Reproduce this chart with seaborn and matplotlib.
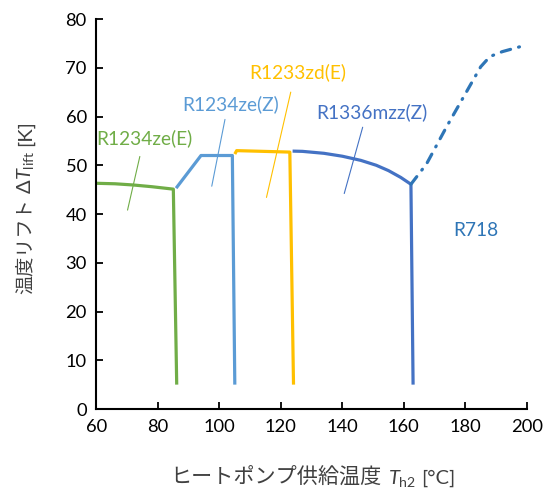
import numpy as np
import pandas as pd
import matplotlib
matplotlib.use("Agg")
import matplotlib.pyplot as plt
from matplotlib.transforms import IdentityTransform
import seaborn as sns

# Operating limits of each refrigerant: supply temperature vs. temperature lift
r1234ze_e_x = [60.0, 66.0, 72.0, 78.0, 85.0, 86.1]
r1234ze_e_y = [46.3, 46.2, 45.95, 45.6, 45.1, 5.0]

r1234ze_z_x = [85.9, 94.0, 104.2, 105.0]
r1234ze_z_y = [45.3, 52.0, 52.0, 5.0]

r1233zd_e_x = [105.0, 105.6, 122.9, 124.1]
r1233zd_e_y = [52.3, 53.0, 52.7, 5.0]

r1336mzz_z_x = [123.8, 127.0, 134.0, 140.0, 146.0, 151.0, 155.0, 159.0, 162.3, 163.0]
r1336mzz_z_y = [52.9, 52.85, 52.45, 51.85, 51.0, 50.0, 48.9, 47.5, 46.1, 5.0]

r718_x = [162.3, 167.4, 173.9, 180.4, 185.0, 188.0, 192.0, 200.0]
r718_y = [46.1, 50.3, 57.9, 65.1, 70.2, 72.3, 73.3, 74.7]

names = ["R1234ze(E)", "R1234ze(Z)", "R1233zd(E)", "R1336mzz(Z)", "R718"]
colors = ["#70AD47", "#5B9BD5", "#FFC000", "#4472C4", "#2E75B6"]

x_ticks = [60, 80, 100, 120, 140, 160, 180, 200]
y_ticks = [0, 10, 20, 30, 40, 50, 60, 70, 80]

series = [
    (names[0], r1234ze_e_x, r1234ze_e_y),
    (names[1], r1234ze_z_x, r1234ze_z_y),
    (names[2], r1233zd_e_x, r1233zd_e_y),
    (names[3], r1336mzz_z_x, r1336mzz_z_y),
    (names[4], r718_x, r718_y),
]
df = pd.concat(
    [pd.DataFrame({"refrigerant": n, "T_h2": xs, "dT_lift": ys}) for n, xs, ys in series],
    ignore_index=True,
)

# label positions (data coords) and leader line ends for the annotations
label_pos = {
    "R1234ze(E)": (75.5, 55.6),
    "R1234ze(Z)": (103.6, 62.6),
    "R1233zd(E)": (125.5, 69.0),
    "R1336mzz(Z)": (149.5, 60.9),
    "R718": (183.5, 36.7),
}
leaders = {
    "R1234ze(E)": ((74.1, 51.8), (70.1, 40.8)),
    "R1234ze(Z)": ((101.8, 59.4), (97.5, 45.7)),
    "R1233zd(E)": ((123.2, 65.0), (115.3, 43.4)),
    "R1336mzz(Z)": ((146.6, 57.8), (140.6, 44.2)),
}

sns.set_theme(style="ticks")
plt.rcParams["font.family"] = ["Lato", "Noto Sans CJK JP", "DejaVu Sans"]
plt.rcParams["mathtext.fontset"] = "custom"
plt.rcParams["mathtext.rm"] = "Lato"
plt.rcParams["mathtext.it"] = "Lato:italic"

fig = plt.figure(figsize=(5.47, 4.91), dpi=100)
ax = fig.add_axes([0.1764, 0.167, 0.7867, 0.7943])

palette = dict(zip(names, colors))
dash_map = {n: "" for n in names}
dash_map["R718"] = (3.0, 2.6, 0.3, 2.6)

sns.lineplot(
    data=df, x="T_h2", y="dT_lift", hue="refrigerant", style="refrigerant",
    palette=palette, dashes=dash_map, hue_order=names, style_order=names,
    sort=False, estimator=None, linewidth=2.3, legend=False, ax=ax,
)
for ln in ax.get_lines():
    ln.set_dash_capstyle("round")
    ln.set_solid_capstyle("butt")
    ln.set_solid_joinstyle("round")

for name, color in zip(names, colors):
    x, y = label_pos[name]
    ax.text(x, y, name, color=color, fontsize=13.8, ha="center", va="center")
    if name in leaders:
        (x0, y0), (x1, y1) = leaders[name]
        ax.annotate("", xy=(x1, y1), xytext=(x0, y0),
                    arrowprops=dict(arrowstyle="-", color=color, lw=0.8,
                                    shrinkA=0, shrinkB=0))

ax.set_xlim(60, 200)
ax.set_ylim(0, 80)
ax.set_xticks(x_ticks)
ax.set_yticks(y_ticks)
ax.set_xlabel("")
ax.set_ylabel("")
ax.tick_params(direction="in", length=5, width=1.3, colors="black",
               labelsize=13.2, pad=7)
for side in ("top", "right"):
    ax.spines[side].set_visible(False)
for side in ("left", "bottom"):
    ax.spines[side].set_linewidth(1.5)
    ax.spines[side].set_color("black")


def compound_label(pieces, center, vertical=False):
    """Lay out mixed-font text pieces along one baseline, centred at `center` (pixels)."""
    renderer = fig.canvas.get_renderer()
    texts, widths = [], []
    for s, kw, gap in pieces:
        t = fig.text(0, 0, s, transform=IdentityTransform(), ha="left",
                     va="baseline", rotation_mode="anchor", color="#404040", **kw)
        widths.append(t.get_window_extent(renderer).width + gap)
        texts.append(t)
    pos = -sum(widths) / 2
    cx, cy = center
    for t, w in zip(texts, widths):
        if vertical:
            t.set_rotation(90)
            t.set_position((cx, cy + pos))
        else:
            t.set_position((cx + pos, cy))
        pos += w


lat = dict(family="Lato", fontsize=14.5)

compound_label(
    [("ヒートポンプ供給温度", dict(family="Noto Sans CJK JP", fontsize=15.2), 7),
     (r"$\mathit{T}_{\mathrm{h2}}$", lat, 5),
     ("[°C]", lat, 0)],
    center=(313, 7),
)
compound_label(
    [("温度リフト", dict(family="Noto Sans CJK JP", fontsize=13.8), 5),
     ("Δ", lat, 0),
     (r"$\mathit{T}_{\mathrm{lift}}$", lat, 4),
     ("[K]", lat, 0)],
    center=(31, 284), vertical=True,
)

fig.savefig("out.png", dpi=100)
